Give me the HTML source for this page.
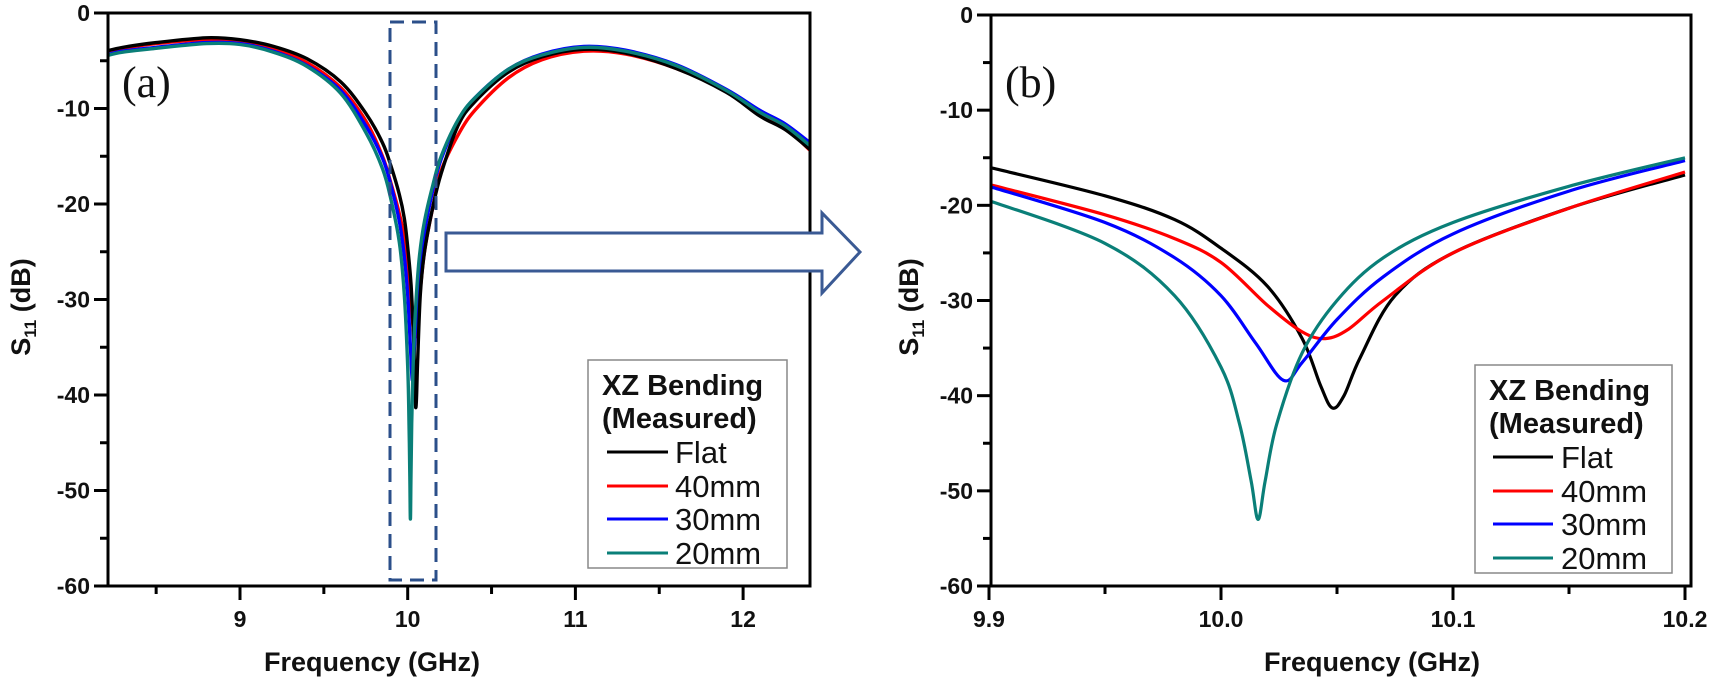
<!DOCTYPE html>
<html><head><meta charset="utf-8"><style>
html,body{margin:0;padding:0;background:#fff;}
svg{display:block;}
text{font-family:"Liberation Sans",Arial,sans-serif;}
.tl{font-size:23px;font-weight:bold;fill:#111;}
.tt{font-size:27px;font-weight:bold;fill:#111;}
.lg{font-size:31px;fill:#111;}
.lgb{font-size:29px;font-weight:bold;fill:#111;}
</style></head><body>
<svg id="s" width="1716" height="689" viewBox="0 0 1716 689" xmlns="http://www.w3.org/2000/svg">
<defs>
<clipPath id="ca"><rect x="108" y="13" width="702" height="573"/></clipPath>
<clipPath id="cb"><rect x="991" y="15" width="700" height="571"/></clipPath>
</defs>
<g id="ga" clip-path="url(#ca)"></g>
<g id="gb" clip-path="url(#cb)"></g>
<g id="axes"></g>
<rect x="108" y="13" width="702" height="573" fill="none" stroke="#000" stroke-width="3"/>
<rect x="991" y="15" width="700" height="571" fill="none" stroke="#000" stroke-width="3"/>
<text x="122" y="97" style="font-family:'Liberation Serif',serif;font-size:44px;fill:#111">(a)</text>
<text x="1005" y="97" style="font-family:'Liberation Serif',serif;font-size:44px;fill:#111">(b)</text>
<text class="tt" transform="translate(30,307) rotate(-90)" text-anchor="middle">S<tspan font-size="17" dy="6">11</tspan><tspan dy="-6"> (dB)</tspan></text>
<text class="tt" transform="translate(918,307) rotate(-90)" text-anchor="middle">S<tspan font-size="17" dy="6">11</tspan><tspan dy="-6"> (dB)</tspan></text>
<text class="tt" x="372" y="671" text-anchor="middle">Frequency (GHz)</text>
<text class="tt" x="1372" y="671" text-anchor="middle">Frequency (GHz)</text>
<rect x="390" y="22" width="46" height="558" fill="none" stroke="#2b4f8a" stroke-width="3" stroke-dasharray="14,8"/>
<path d="M822,233 L446,233 L446,271 L822,271 L822,293 L860,252 L822,213 Z" fill="#fff" stroke="#3a5a94" stroke-width="3" stroke-linejoin="miter"/>
<g>
<rect x="588" y="360" width="199" height="208" fill="#fff" stroke="#888" stroke-width="1.5"/>
<text class="lgb" x="602" y="395">XZ Bending</text>
<text class="lgb" x="602" y="428">(Measured)</text>
<line x1="607" y1="452" x2="668" y2="452" stroke="#000" stroke-width="3"/><text class="lg" x="675" y="463">Flat</text>
<line x1="607" y1="486" x2="668" y2="486" stroke="#f00" stroke-width="3"/><text class="lg" x="675" y="497">40mm</text>
<line x1="607" y1="519" x2="668" y2="519" stroke="#00f" stroke-width="3"/><text class="lg" x="675" y="530">30mm</text>
<line x1="607" y1="553" x2="668" y2="553" stroke="#0a7f78" stroke-width="3"/><text class="lg" x="675" y="564">20mm</text>
</g>
<g transform="translate(0,13)">
<rect x="1475" y="352" width="197" height="208" fill="#fff" stroke="#888" stroke-width="1.5"/>
<text class="lgb" x="1489" y="387">XZ Bending</text>
<text class="lgb" x="1489" y="420">(Measured)</text>
<line x1="1493" y1="444" x2="1553" y2="444" stroke="#000" stroke-width="3"/><text class="lg" x="1561" y="455">Flat</text>
<line x1="1493" y1="478" x2="1553" y2="478" stroke="#f00" stroke-width="3"/><text class="lg" x="1561" y="489">40mm</text>
<line x1="1493" y1="511" x2="1553" y2="511" stroke="#00f" stroke-width="3"/><text class="lg" x="1561" y="522">30mm</text>
<line x1="1493" y1="545" x2="1553" y2="545" stroke="#0a7f78" stroke-width="3"/><text class="lg" x="1561" y="556">20mm</text>
</g>
</svg>
<script>
(function(){
var NS="http://www.w3.org/2000/svg";
function el(t,a,p){var e=document.createElementNS(NS,t);for(var k in a)e.setAttribute(k,a[k]);p.appendChild(e);return e;}
var axes=document.getElementById('axes');
function yaxis(x0,ytop,ybot){
 var s=(ybot-ytop)/60;
 for(var v=0;v>=-60;v-=5){
  var y=ytop-v*s, maj=(v%10===0);
  el('line',{x1:x0-(maj?14:8),y1:y,x2:x0,y2:y,stroke:'#000','stroke-width':3},axes);
  if(maj){var t=el('text',{x:x0-18,y:y+8,'class':'tl','text-anchor':'end'},axes);t.textContent=v;}
 }
}
yaxis(108,13,586);yaxis(991,15,586);
function xa(f){return 240+(f-9)*167.7;}
for(var f=8.5;f<=12.01;f+=0.5){
 var x=xa(f),maj=Math.abs(f-Math.round(f))<0.01;
 el('line',{x1:x,y1:586,x2:x,y2:586+(maj?14:8),stroke:'#000','stroke-width':3},axes);
 if(maj){var t=el('text',{x:x,y:627,'class':'tl','text-anchor':'middle'},axes);t.textContent=Math.round(f);}
}
function xb(f){return 989+(f-9.9)*2320;}
for(var i=0;i<=6;i++){
 var f=9.9+i*0.05,x=xb(f),maj=(i%2===0);
 el('line',{x1:x,y1:586,x2:x,y2:586+(maj?14:8),stroke:'#000','stroke-width':3},axes);
 if(maj){var t=el('text',{x:x,y:627,'class':'tl','text-anchor':'middle'},axes);t.textContent=f.toFixed(1);}
}
var zoom={
 k:[[9.9,-16],[9.95,-19],[9.98,-21.5],[10.0,-24.5],[10.02,-28.5],[10.035,-34],[10.043,-39],[10.048,-41.3],[10.053,-40],[10.06,-36],[10.075,-29.5],[10.1,-25],[10.15,-20.3],[10.2,-16.8]],
 r:[[9.9,-17.8],[9.95,-21],[9.98,-23.5],[10.0,-26],[10.02,-30.5],[10.035,-33.3],[10.045,-34],[10.055,-33],[10.07,-30],[10.1,-25],[10.15,-20.3],[10.2,-16.5]],
 b:[[9.9,-18],[9.95,-21.8],[9.98,-25.5],[10.0,-29.5],[10.015,-34.5],[10.027,-38.4],[10.035,-36.5],[10.05,-32],[10.07,-27.5],[10.1,-23],[10.15,-18.5],[10.2,-15.3]],
 t:[[9.9,-19.5],[9.95,-24],[9.98,-29.5],[10.0,-37],[10.008,-43],[10.013,-49],[10.016,-53],[10.019,-49],[10.024,-43],[10.035,-35.5],[10.05,-30],[10.07,-25.5],[10.1,-21.8],[10.15,-18],[10.2,-15]]
};
var pre={
 k:[[8.2,-4],[8.3,-3.6],[8.5,-3.1],[8.8,-2.6],[9.0,-2.8],[9.2,-3.5],[9.4,-4.8],[9.6,-7.2],[9.75,-10.5],[9.85,-13.6]],
 r:[[8.2,-4],[8.3,-3.7],[8.5,-3.2],[8.8,-2.8],[9.0,-3.0],[9.2,-3.8],[9.4,-5.2],[9.6,-7.8],[9.75,-11.3],[9.85,-15]],
 b:[[8.2,-4.4],[8.3,-4.0],[8.5,-3.6],[8.8,-3.1],[9.0,-3.2],[9.2,-4.0],[9.4,-5.5],[9.6,-8.1],[9.75,-11.8],[9.85,-15.2]],
 t:[[8.2,-4.5],[8.3,-4.1],[8.5,-3.7],[8.8,-3.2],[9.0,-3.3],[9.2,-4.1],[9.4,-5.6],[9.6,-8.4],[9.75,-12.5],[9.85,-16.3]]
};
var post={
 k:[[10.3,-11.8],[10.4,-9.3],[10.6,-6.2],[10.8,-4.6],[11.05,-3.8],[11.3,-4.2],[11.6,-5.8],[11.9,-8.3],[12.1,-10.8],[12.25,-12.2],[12.4,-14.3]],
 r:[[10.3,-12.8],[10.4,-10.2],[10.6,-6.8],[10.8,-4.9],[11.05,-4.0],[11.3,-4.3],[11.6,-5.8],[11.9,-8.2],[12.1,-10.5],[12.25,-12],[12.4,-14.4]],
 b:[[10.3,-11.3],[10.4,-8.9],[10.6,-5.9],[10.8,-4.3],[11.05,-3.5],[11.3,-3.9],[11.6,-5.4],[11.9,-8.0],[12.1,-10.2],[12.25,-11.6],[12.4,-13.6]],
 t:[[10.3,-11.2],[10.4,-8.9],[10.6,-5.9],[10.8,-4.4],[11.05,-3.6],[11.3,-4.0],[11.6,-5.5],[11.9,-8.1],[12.1,-10.4],[12.25,-11.8],[12.4,-13.9]]
};
var col={k:'#000',r:'#f00',b:'#00f',t:'#0a7f78'};
function path(pts,fx,fy){
 var P=pts.map(function(p){return [fx(p[0]),fy(p[1])];});
 var d='M'+P[0][0].toFixed(1)+','+P[0][1].toFixed(1);
 for(var i=0;i<P.length-1;i++){
  var p0=P[i>0?i-1:i],p1=P[i],p2=P[i+1],p3=P[i+2<P.length?i+2:i+1];
  var c1=[p1[0]+(p2[0]-p0[0])/6,p1[1]+(p2[1]-p0[1])/6];
  var c2=[p2[0]-(p3[0]-p1[0])/6,p2[1]-(p3[1]-p1[1])/6];
  c1[0]=Math.min(Math.max(c1[0],p1[0]),p2[0]);c2[0]=Math.min(Math.max(c2[0],p1[0]),p2[0]);
  d+=' C'+c1[0].toFixed(1)+','+c1[1].toFixed(1)+' '+c2[0].toFixed(1)+','+c2[1].toFixed(1)+' '+p2[0].toFixed(1)+','+p2[1].toFixed(1);
 }
 return d;
}
var ga=document.getElementById('ga'),gb=document.getElementById('gb');
function yA(v){return 13-v*573/60;}
function yB(v){return 15-v*571/60;}
['r','b','k','t'].forEach(function(k){
 var pts=pre[k].concat(zoom[k]).concat(post[k]);
 el('path',{d:path(pts,xa,yA),fill:'none',stroke:col[k],'stroke-width':3.4,'stroke-linejoin':'round'},ga);
});
['k','r','b','t'].forEach(function(k){
 el('path',{d:path(zoom[k],xb,yB),fill:'none',stroke:col[k],'stroke-width':3.2,'stroke-linejoin':'round'},gb);
});
})();
</script>
</body></html>
